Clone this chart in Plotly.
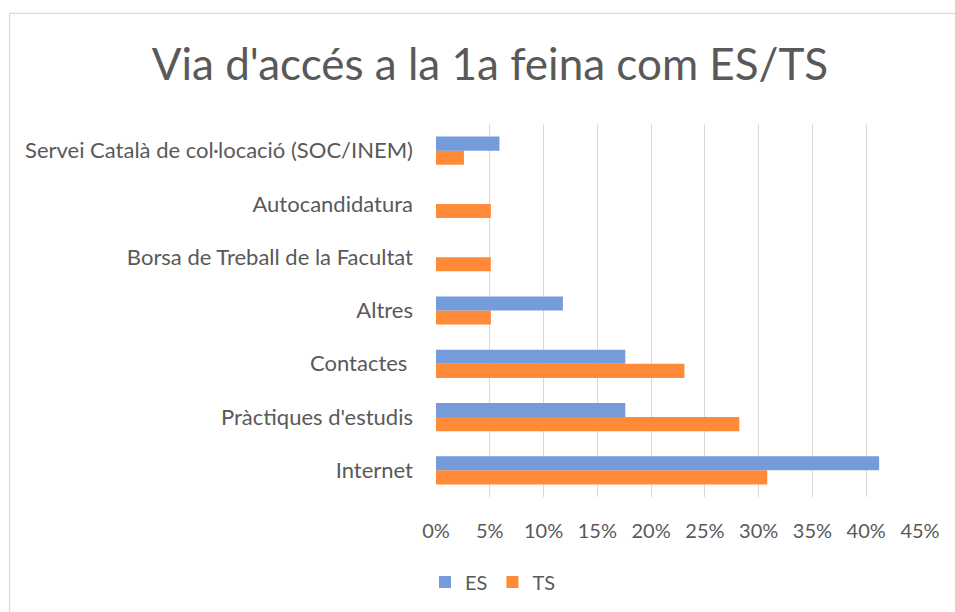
import plotly.graph_objects as go

categories = ["Internet", "Pràctiques d'estudis", "Contactes ", "Altres",
              "Borsa de Treball de la Facultat", "Autocandidatura",
              "Servei Català de col·locació (SOC/INEM)"]
es_values = [0.412, 0.176, 0.176, 0.118, 0.0, 0.0, 0.059]
ts_values = [0.308, 0.282, 0.231, 0.051, 0.051, 0.051, 0.026]
tick_vals = [0, 0.05, 0.10, 0.15, 0.20, 0.25, 0.30, 0.35, 0.40, 0.45]
tick_text = ["0%", "5%", "10%", "15%", "20%", "25%", "30%", "35%", "40%", "45%"]

FONT = "Lato"
GRAY = "#595959"

fig = go.Figure()
fig.add_trace(go.Bar(y=categories, x=ts_values, name="TS", orientation="h",
                     marker=dict(color="#FF8B38", line=dict(width=0)), legendrank=2))
fig.add_trace(go.Bar(y=categories, x=es_values, name="ES", orientation="h",
                     marker=dict(color="#759BDB", line=dict(width=0)),
                     legendrank=1))

W, H = 955, 612
L, R, T, B = 436, 35, 124, 114
pw, ph = W - L - R, H - T - B

fig.update_layout(
    width=W, height=H,
    margin=dict(l=L, r=R, t=T, b=B),
    paper_bgcolor="white", plot_bgcolor="white",
    barmode="group", bargap=0.47, bargroupgap=0,
    title=dict(text="Via d'accés a la 1a feina com ES/TS", x=490 / W, xanchor="center",
               y=1 - 65 / H, yanchor="middle",
               font=dict(family=FONT, size=44, color=GRAY)),
    font=dict(family=FONT, size=20, color=GRAY),
    xaxis=dict(range=[0, 0.45], tickvals=tick_vals, ticktext=tick_text,
               showgrid=True, gridcolor="#D9D9D9", gridwidth=1, zeroline=False,
               showline=False, ticks="", ticklabelstandoff=20,
               tickfont=dict(size=20, color=GRAY), fixedrange=True),
    yaxis=dict(categoryorder="array", categoryarray=categories,
               showgrid=False, zeroline=False, showline=False, ticks="",
               ticklabelstandoff=22, tickfont=dict(size=22, color=GRAY)),
    legend=dict(orientation="h", x=(493 - L) / pw, xanchor="center",
                y=-(582 - (T + ph)) / ph, yanchor="middle",
                font=dict(size=20, color=GRAY), traceorder="normal",
                itemwidth=30),
    showlegend=True,
)

# outer chart border (left and top edges visible)
bx0 = (9.5 - L) / pw
by1 = (H - B - 13) / ph
fig.add_shape(type="line", xref="paper", yref="paper", x0=bx0, x1=(W + 5 - L) / pw,
              y0=by1, y1=by1, line=dict(color="#D9D9D9", width=1.2))
fig.add_shape(type="line", xref="paper", yref="paper", x0=bx0, x1=bx0,
              y0=by1, y1=-(B + 10) / ph, line=dict(color="#D9D9D9", width=1.2))

fig.write_html("out.html", config={"displayModeBar": False},
               post_script="document.body.style.margin='0';document.body.style.overflow='hidden';")
